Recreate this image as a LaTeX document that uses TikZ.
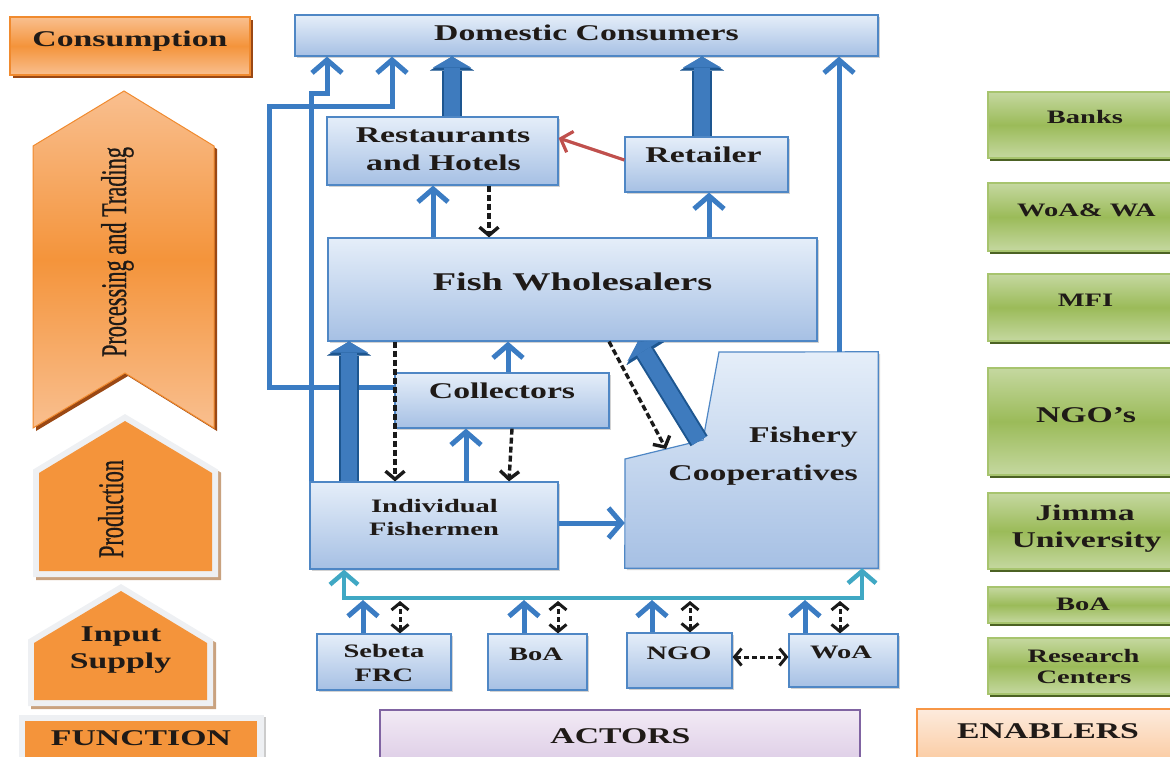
\documentclass[tikz,border=0pt]{standalone}
\usepackage{fontspec}
\setmainfont{Liberation Serif}
\newfontfamily\widefont{Liberation Serif}[FakeStretch=1.5]
\newfontfamily\condfont{Liberation Serif}[FakeStretch=0.62,FakeBold=0.6]
\usetikzlibrary{arrows.meta,calc,shadows}

\definecolor{boxtop}{HTML}{E5EEF9}
\definecolor{boxbot}{HTML}{A6C0E4}
\definecolor{boxline}{HTML}{4F87C5}
\definecolor{arrblue}{HTML}{3B7CC3}
\definecolor{fatfill}{HTML}{3E7BBE}
\definecolor{fatline}{HTML}{1D5690}
\definecolor{tealc}{HTML}{40A8C4}
\definecolor{redc}{HTML}{C0504D}
\definecolor{orlight}{HTML}{F9BF8F}
\definecolor{ormid}{HTML}{F4943B}
\definecolor{orline}{HTML}{F08A2E}
\definecolor{orshadow}{HTML}{9A4814}
\definecolor{tanshadow}{HTML}{C9A27F}
\definecolor{rimc}{HTML}{EEF0F3}
\definecolor{grlight}{HTML}{C5D8A0}
\definecolor{grmid}{HTML}{9BBB59}
\definecolor{grline}{HTML}{A7C46E}
\definecolor{grshadow}{HTML}{4C6224}
\definecolor{purtop}{HTML}{F2EAF5}
\definecolor{purbot}{HTML}{D9C7E3}
\definecolor{purline}{HTML}{8064A2}
\definecolor{pchtop}{HTML}{FDEBDD}
\definecolor{pchbot}{HTML}{FAC393}
\definecolor{enbline}{HTML}{F79646}
\definecolor{txtc}{HTML}{1F1A17}
\definecolor{darkc}{HTML}{1A1A1A}

\tikzset{
 lbl/.style={text=txtc, inner sep=0pt, anchor=base},
 tA/.style={lbl, font=\widefont\bfseries\fontsize{22.5}{27}\selectfont},
 tB/.style={lbl, font=\widefont\bfseries\fontsize{19}{23}\selectfont},
 tC/.style={lbl, font=\widefont\bfseries\fontsize{25.5}{30}\selectfont},
 tV/.style={lbl, rotate=90, font=\condfont\fontsize{36}{40}\selectfont},
 actor/.style={draw=boxline, line width=1.2pt, top color=boxtop, bottom color=boxbot, inner sep=0pt,
   drop shadow={fill=black!35, opacity=0.5, shadow xshift=2pt, shadow yshift=-2pt}},
 enabler/.style={draw=grline, line width=1.6pt, top color=grlight, bottom color=grlight, middle color=grmid,
   inner sep=0pt, minimum width=194pt, drop shadow={fill=grshadow, opacity=1, shadow xshift=2pt, shadow yshift=-3pt}},
 consbox/.style={draw=orline, line width=1.2pt, top color=orlight, bottom color=orlight, middle color=ormid,
   inner sep=0pt, drop shadow={fill=orshadow, opacity=1, shadow xshift=3pt, shadow yshift=-3pt}},
 barr/.style={draw=arrblue, line width=5pt, -{Straight Barb[length=13pt,width=30pt]}},
 darr/.style={draw=darkc, line width=3.4pt, dash pattern=on 6pt off 3pt, -{Straight Barb[length=8pt,width=19pt]}},
 ddarr/.style={draw=darkc, line width=3pt, dash pattern=on 5pt off 3pt,
   {Straight Barb[length=7pt,width=17pt]}-{Straight Barb[length=7pt,width=17pt]}},
 tarr/.style={draw=tealc, line width=4.5pt,
   {Straight Barb[length=12pt,width=28pt]}-{Straight Barb[length=12pt,width=28pt]}},
 rarr/.style={draw=redc, line width=3.2pt, -{Straight Barb[length=10pt,width=22pt]}},
 fat/.style={draw=fatfill, line width=16pt, -{Triangle[width=38pt,length=11pt,line width=0.1pt]},
   preaction={draw=fatline, line width=20pt, -{Triangle[width=44pt,length=14pt,line width=0.1pt]}}},
}

\begin{document}
\begin{tikzpicture}[x=1pt,y=-1pt]
\useasboundingbox (0,0) rectangle (1170,756);

% ================= FUNCTION column =================
\node[consbox, minimum width=240pt, minimum height=58pt] (consumption) at (130,46) {};
\node[tA] at (130,46.5) {Consumption};

\begin{scope}[shift={(3,3)}]
\fill[orshadow] (124,91) -- (214,146) -- (214,428) -- (125,373) -- (33,428) -- (33,146) -- cycle;
\end{scope}
\path[draw=orline, line width=1pt, top color=orlight, bottom color=orlight, middle color=ormid]
  (124,91) -- (214,146) -- (214,428) -- (125,373) -- (33,428) -- (33,146) -- cycle;
\node[tV] at (126,252) {Processing and Trading};

\begin{scope}[shift={(3,3)}]
\path[fill=tanshadow, draw=tanshadow, line width=12pt] (125,421) -- (212,473) -- (212,571) -- (39,571) -- (39,473) -- cycle;
\end{scope}
\path[fill=ormid, draw=rimc, line width=12pt] (125,421) -- (212,473) -- (212,571) -- (39,571) -- (39,473) -- cycle;
\fill[ormid] (125,421) -- (212,473) -- (212,571) -- (39,571) -- (39,473) -- cycle;
\node[tV] at (123,509) {Production};

\begin{scope}[shift={(3,3)}]
\path[fill=tanshadow, draw=tanshadow, line width=12pt] (121,591) -- (207,643) -- (207,700) -- (34,700) -- (34,643) -- cycle;
\end{scope}
\path[fill=ormid, draw=rimc, line width=12pt] (121,591) -- (207,643) -- (207,700) -- (34,700) -- (34,643) -- cycle;
\fill[ormid] (121,591) -- (207,643) -- (207,700) -- (34,700) -- (34,643) -- cycle;
\node[tA] at (121,641) {Input};
\node[tA] at (120.5,668) {Supply};

\begin{scope}[shift={(2,2)}]
\path[draw=black!20, line width=13pt] (25,721) rectangle (257,800);
\end{scope}
\path[fill=ormid, draw=rimc, line width=13pt] (25,721) rectangle (257,800);
\fill[ormid] (25,721) rectangle (257,800);
\node[tA] at (141,745) {FUNCTION};

% ================= ACTORS =================
\node[actor, minimum width=583pt, minimum height=41pt] (dom) at (586.5,35.5) {};
\node[tA] at (586.5,40) {Domestic Consumers};

\node[actor, minimum width=231pt, minimum height=68pt] (rest) at (442.5,151) {};
\node[tA] at (443,142) {Restaurants};
\node[tA] at (443.5,170) {and Hotels};

\node[actor, minimum width=163pt, minimum height=55pt] (ret) at (706.5,164.5) {};
\node[tA] at (703.5,162) {Retailer};

\node[actor, minimum width=489pt, minimum height=103pt] (whole) at (572.5,289.5) {};
\node[tC] at (572.5,290) {Fish Wholesalers};

\node[actor, minimum width=214pt, minimum height=55pt] (coll) at (502,400.5) {};
\node[tA] at (502,398) {Collectors};

\node[actor, minimum width=248pt, minimum height=87pt] (ifm) at (434,525.5) {};
\node[tB] at (434.5,512) {Individual};
\node[tB] at (434,535) {Fishermen};

\node[inner sep=0pt, minimum width=253pt, minimum height=216pt] (coop) at (751.5,460) {};
\coordinate (ctop) at (719,352);
\coordinate (cn1) at (625,459);
\coordinate (cn2) at (703,440);
\path[draw=boxline, line width=1.2pt, top color=boxtop, bottom color=boxbot,
  drop shadow={fill=black!35, opacity=0.5, shadow xshift=2pt, shadow yshift=-2pt}]
  (ctop) -- (coop.north east) -- (coop.south east) -- (coop.south west) -- (cn1) -- (cn2) -- cycle;
\node[tA, anchor=base east] at (858,442) {Fishery};
\node[tA, anchor=base east] at (858,480) {Cooperatives};

\node[actor, minimum width=134pt, minimum height=56pt] (seb) at (384,662) {};
\node[tB] at (384,657) {Sebeta};
\node[tB] at (384,681) {FRC};
\node[actor, minimum width=99pt, minimum height=56pt] (boa) at (537.5,662) {};
\node[tB] at (536,660) {BoA};
\node[actor, minimum width=105pt, minimum height=55pt] (ngo) at (679.5,660.5) {};
\node[tB] at (679,659) {NGO};
\node[actor, minimum width=109pt, minimum height=53pt] (woa) at (843.5,660.5) {};
\node[tB] at (841,658) {WoA};

\node[draw=purline, line width=1.2pt, top color=purtop, bottom color=purbot, inner sep=0pt,
  minimum width=480pt, minimum height=65pt] (actors) at (620,742.5) {};
\node[tA] at (620.5,743) {ACTORS};

% ================= ENABLERS =================
\node[enabler, minimum height=66pt] (banks) at (1085,125) {};
\node[tB] at (1085,123) {Banks};
\node[enabler, minimum height=68pt] (woawa) at (1085,217) {};
\node[tB] at (1086.5,216) {WoA\& WA};
\node[enabler, minimum height=67pt] (mfi) at (1085,307.5) {};
\node[tB] at (1085.5,306) {MFI};
\node[enabler, minimum height=107pt] (ngos) at (1085,421.5) {};
\node[tA] at (1086,422) {NGO’s};
\node[enabler, minimum height=76pt] (jimma) at (1085,531) {};
\node[tA] at (1085,520) {Jimma};
\node[tA] at (1086.5,547) {University};
\node[enabler, minimum height=36pt] (boaE) at (1085,605) {};
\node[tB] at (1083,610) {BoA};
\node[enabler, minimum height=56pt] (rc) at (1085,666) {};
\node[tB] at (1083.5,662) {Research};
\node[tB] at (1084,683) {Centers};

\node[draw=enbline, line width=1.2pt, top color=pchtop, bottom color=pchbot, inner sep=0pt,
  minimum width=263pt, minimum height=66pt] (enablers) at (1048.5,742) {};
\node[tA] at (1048,738) {ENABLERS};

% ================= CONNECTORS =================
% loops to consumers
\draw[barr] (coll.west |- 0,387) -| (269,106) -| (dom.south -| 392,0);
\draw[barr] (ifm.north -| 311,0) -- (311,93) -| (dom.south -| 327,0);
\draw[barr] (coop.north -| 839,0) -- (dom.south -| 839,0);
% fat arrows
\draw[fat] (rest.north -| 452,0) -- (dom.south -| 452,0);
\draw[fat] (ret.north -| 702,0) -- (dom.south -| 702,0);
\draw[fat] (ifm.north -| 349,0) -- (whole.south -| 349,0);
\draw[fat] ($(cn1)!0.95!(cn2)$) -- (whole.south -| 638,0);
% red
\draw[rarr] ([yshift=4.5pt]ret.west) -- ([yshift=13pt]rest.east);
% wholesalers up
\draw[barr] (whole.north -| 433,0) -- (rest.south -| 433,0);
\draw[darr] (rest.south -| 489,0) -- (whole.north -| 489,0);
\draw[barr] (whole.north -| 709,0) -- (ret.south -| 709,0);
% production level
\draw[darr] (whole.south -| 395,0) -- (ifm.north -| 395,0);
\draw[barr] (coll.north -| 508,0) -- (whole.south -| 508,0);
\draw[barr] (ifm.north -| 466,0) -- (coll.south -| 466,0);
\draw[darr] (coll.south -| 512,0) -- (ifm.north -| 509,0);
\draw[darr] (whole.south -| 609,0) -- ($(cn1)!0.526!(cn2)$);
\draw[barr] (ifm.east |- 0,523) -- (coop.west |- 0,523);
% input supply
\coordinate (busL) at (344,598);
\coordinate (busR) at (862,598);
\draw[tarr] (ifm.south -| busL) -- (busL) -- (busR) -- (coop.south -| busR);
\draw[barr] (seb.north -| 363,0) -- (363,600);
\draw[barr] (boa.north -| 524,0) -- (524,600);
\draw[barr] (ngo.north -| 652,0) -- (652,600);
\draw[barr] (woa.north -| 805,0) -- (805,600);
\draw[ddarr] (seb.north -| 400,0) -- (400,601);
\draw[ddarr] (boa.north -| 558,0) -- (558,601);
\draw[ddarr] (ngo.north -| 690,0) -- (690,601);
\draw[ddarr] (woa.north -| 840,0) -- (840,601);
\draw[ddarr] (ngo.east |- 0,657) -- (woa.west |- 0,657);
\end{tikzpicture}
\end{document}
